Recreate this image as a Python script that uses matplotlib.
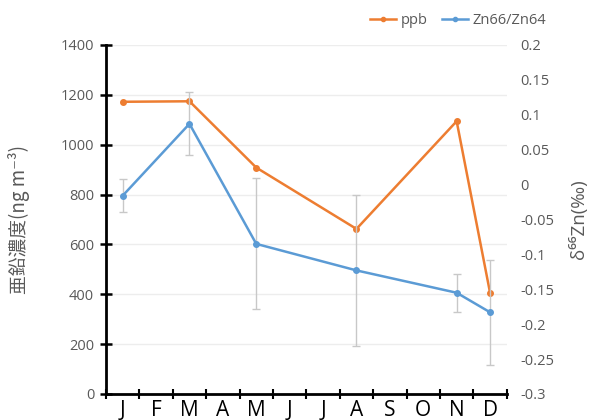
import numpy as np
import matplotlib.pyplot as plt
from matplotlib.lines import Line2D
from matplotlib.ticker import FixedLocator

plt.rcParams['font.family'] = ['Open Sans', 'Noto Sans CJK JP', 'DejaVu Sans']

months = ["J", "F", "M", "A", "M", "J", "J", "A", "S", "O", "N", "D"]

# sampled months (index into months)
sample_idx = [0, 2, 4, 7, 10, 11]
ppb = [1172, 1174, 908, 662, 1094, 406]
delta_zn = [-0.016, 0.087, -0.085, -0.123, -0.155, -0.183]
delta_err = [0.024, 0.045, 0.094, 0.108, 0.027, 0.075]
right_ticks = [-0.3, -0.25, -0.2, -0.15, -0.1, -0.05, 0, 0.05, 0.1, 0.15, 0.2]

ORANGE = "#ED7D31"
BLUE = "#5B9BD5"
TEXT = "#595959"

fig = plt.figure(figsize=(5.92, 4.2), dpi=100)
ax = fig.add_axes([0.179, 0.062, 0.677, 0.831])
ax2 = ax.twinx()

x = np.arange(len(months))
xs = x[sample_idx]

ax.plot(xs, ppb, color=ORANGE, lw=1.8, marker="o", ms=4, zorder=3)
ax2.errorbar(xs, delta_zn, yerr=delta_err, color=BLUE, lw=1.8, marker="o", ms=4,
             ecolor="#C8C8C8", elinewidth=1, capsize=3, capthick=1)

ax.set_xlim(-0.5, 11.5)
ax.set_ylim(0, 1400)
ax.set_yticks(np.arange(0, 1401, 200))
ax2.set_ylim(-0.3, 0.2)
ax2.set_yticks(right_ticks)
ax2.set_yticklabels([f"{v:g}" for v in right_ticks])

ax.set_xticks(x)
ax.set_xticklabels(months, fontsize=15, color="black")
ax.xaxis.set_minor_locator(FixedLocator(np.arange(-0.5, 12, 1)))
ax.tick_params(axis="x", which="major", length=0, pad=4)
ax.tick_params(axis="x", which="minor", direction="inout", length=7, width=1.5)
ax.tick_params(axis="y", direction="inout", length=9, width=1.8, labelsize=10.5,
               labelcolor=TEXT, pad=4)
ax2.tick_params(axis="y", length=0, labelsize=10.5, labelcolor=TEXT, pad=10)

ax.grid(axis="y", color="#EDEDED", lw=1)
ax.set_axisbelow(True)
for s in ["top", "right"]:
    ax.spines[s].set_visible(False)
for s in ["top", "right", "left", "bottom"]:
    ax2.spines[s].set_visible(False)
ax.spines["left"].set_linewidth(2)
ax.spines["bottom"].set_linewidth(2)

ax.set_ylabel("亜鉛濃度(ng m⁻³)", fontsize=13.5, color=TEXT, labelpad=22,
              family=['Noto Sans CJK JP', 'DejaVu Sans'])
ax2.set_ylabel("δ⁶⁶Zn(‰)", fontsize=13.5, color=TEXT, labelpad=10,
               family=['Open Sans', 'DejaVu Sans'])

handles = [Line2D([], [], color=ORANGE, lw=1.8, marker="o", ms=3),
           Line2D([], [], color=BLUE, lw=1.8, marker="o", ms=3)]
fig.legend(handles, ["ppb", "Zn66/Zn64"], loc="upper right", bbox_to_anchor=(0.945, 1.0),
           ncol=2, frameon=False, fontsize=10.5, labelcolor=TEXT, handlelength=1.8,
           handletextpad=0.3, columnspacing=1.0)

fig.savefig("out.png", dpi=100)
